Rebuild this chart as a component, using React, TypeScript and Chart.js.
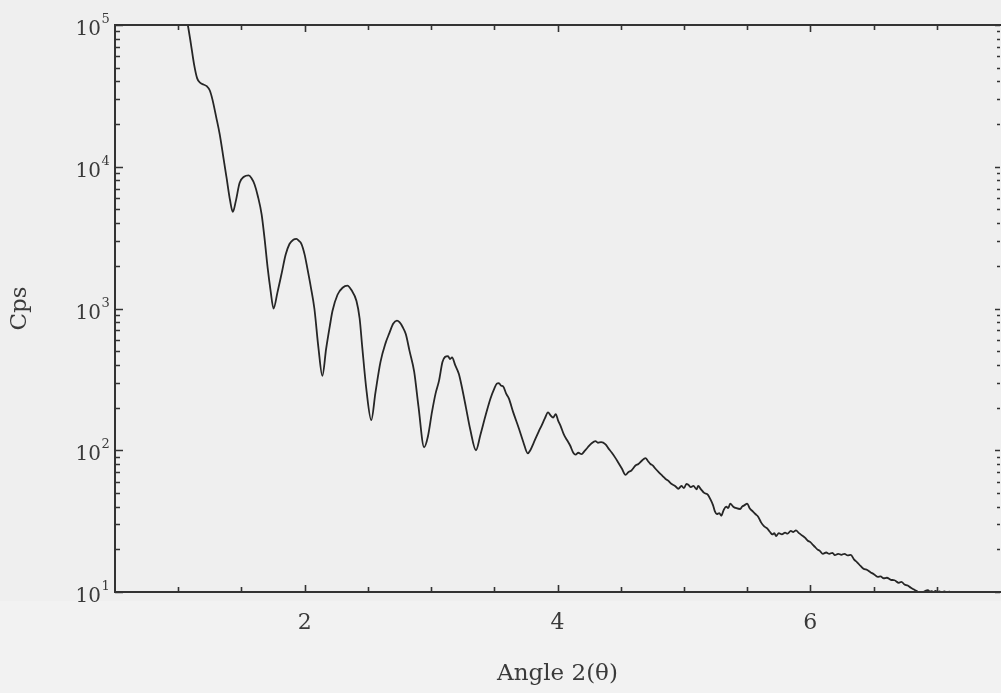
import React, { useEffect, useRef } from 'react';
import { Chart, registerables } from 'chart.js';

Chart.register(...registerables);

// 2θ angle (degrees)
const angles = [
  1.05, 1.076, 1.10, 1.125, 1.15, 1.175, 1.20, 1.226, 1.25, 1.27, 1.30, 1.328, 1.355, 1.383, 1.41, 1.432,
  1.455, 1.486, 1.52, 1.557, 1.58, 1.604, 1.63, 1.66, 1.685, 1.707, 1.73, 1.754, 1.785, 1.817, 1.85, 1.88,
  1.91, 1.935, 1.955, 1.975, 2.0, 2.02, 2.05, 2.077, 2.109, 2.14, 2.17, 2.20, 2.22, 2.26, 2.30, 2.338,
  2.37, 2.41, 2.435, 2.456, 2.49, 2.527, 2.56, 2.60, 2.64, 2.67, 2.70, 2.73, 2.75, 2.775, 2.80, 2.83,
  2.866, 2.90, 2.945, 2.975, 3.008, 3.035, 3.063, 3.09, 3.11, 3.134, 3.15, 3.166, 3.19, 3.22, 3.25, 3.276,
  3.31, 3.355, 3.39, 3.434, 3.47, 3.50, 3.52, 3.536, 3.555, 3.57, 3.595, 3.615, 3.65, 3.694, 3.73, 3.765,
  3.785, 3.81, 3.852, 3.875, 3.90, 3.925, 3.945, 3.965, 3.986, 4.005, 4.025, 4.049, 4.075, 4.10, 4.125, 4.143,
  4.165, 4.19, 4.215, 4.24, 4.27, 4.30, 4.32, 4.345, 4.38, 4.40, 4.43, 4.459, 4.48, 4.51, 4.538, 4.56,
  4.585, 4.617, 4.64, 4.665, 4.696, 4.715, 4.735, 4.755, 4.775, 4.80, 4.83, 4.853, 4.875, 4.90, 4.93, 4.956,
  4.98, 5.0, 5.02, 5.035, 5.055, 5.075, 5.10, 5.113, 5.135, 5.16, 5.19, 5.21, 5.23, 5.245, 5.26, 5.28,
  5.295, 5.315, 5.335, 5.35, 5.366, 5.39, 5.415, 5.445, 5.46, 5.48, 5.50, 5.52, 5.545, 5.565, 5.587, 5.61,
  5.635, 5.66, 5.681, 5.70, 5.715, 5.729, 5.75, 5.775, 5.80, 5.82, 5.845, 5.865, 5.886, 5.91, 5.935, 5.957,
  5.98, 6.0, 6.02, 6.036, 6.055, 6.075, 6.099, 6.125, 6.15, 6.175, 6.194, 6.22, 6.245, 6.27, 6.295, 6.32,
  6.345, 6.37, 6.399, 6.42, 6.45, 6.475, 6.50, 6.533, 6.555, 6.58, 6.605, 6.636, 6.665, 6.70, 6.72, 6.745,
  6.77, 6.795, 6.82, 6.845, 6.872, 6.89, 6.91, 6.93, 6.945, 6.96, 6.975, 6.99, 7.005, 7.02, 7.04, 7.06,
  7.08, 7.10, 7.11,
];

// intensity (counts per second)
const counts = [
  130000, 100000, 74000, 53000, 42000, 39000, 38000, 37000, 34500, 30000, 22500, 17000, 12000, 8300, 5800, 4800,
  5700, 7700, 8500, 8700, 8300, 7500, 6200, 4600, 3000, 1950, 1350, 1000, 1300, 1750, 2400, 2850,
  3050, 3100, 3000, 2850, 2400, 1950, 1400, 1000, 530, 335, 520, 760, 960, 1250, 1400, 1450,
  1350, 1130, 850, 530, 260, 163, 255, 420, 570, 670, 780, 820, 800, 740, 660, 500,
  360, 205, 105, 125, 188, 250, 310, 420, 455, 462, 440, 452, 400, 345, 262, 200,
  140, 100, 128, 180, 232, 272, 295, 298, 285, 282, 250, 232, 185, 143, 114, 95,
  100, 112, 136, 150, 168, 185, 176, 170, 180, 162, 148, 130, 118, 108, 96, 93,
  96, 94, 99, 105, 112, 116, 113, 114, 110, 104, 96, 88, 82, 74, 67, 70,
  72, 78, 80, 84, 88, 84, 80, 78, 74, 70, 66, 63, 61, 58, 56, 53.5,
  56, 54, 58, 57, 55, 56, 53, 56, 53, 50, 48.5, 45, 41, 37, 35.5, 36,
  34.5, 38, 40, 39, 42, 40, 39, 38.5, 40, 41, 42, 39, 37, 35.5, 34, 31,
  29, 28, 26.5, 25.5, 26, 24.8, 26, 25.5, 26.2, 25.8, 27, 26.5, 27.2, 26, 25, 24.2,
  23, 22.5, 21.5, 20.8, 20, 19.5, 18.6, 19, 18.6, 18.9, 18.2, 18.6, 18.3, 18.6, 18.1, 18.3,
  17, 16.2, 15.2, 14.6, 14.3, 13.8, 13.4, 12.8, 12.9, 12.5, 12.6, 12.2, 12.1, 11.6, 11.8, 11.3,
  11.1, 10.7, 10.4, 10.1, 9.75, 9.95, 10.2, 10.3, 10.05, 10.15, 9.95, 10.2, 10.0, 10.1, 9.95, 10.1,
  9.95, 10.05, 9.95,
];

const xLabeledTicks = [2, 4, 6];
const yDecades = [1, 2, 3, 4, 5];
const xTitle = 'Angle 2(θ)';
const yTitle = 'Cps';

const SERIF = '"DejaVu Serif", "Liberation Serif", serif';
const INK = '#3a3a3a';
const BG = '#efefef';

const framePlugin = {
  id: 'frame',
  beforeDraw(chart: any) {
    const { ctx, width, height } = chart;
    ctx.save();
    ctx.fillStyle = BG;
    ctx.fillRect(0, 0, width, height);
    ctx.fillStyle = '#f2f2f2';
    ctx.fillRect(0, 601, width, height - 601);
    ctx.restore();
  },
  afterDraw(chart: any) {
    const { ctx, chartArea, scales } = chart;
    const { left, right, top, bottom } = chartArea;
    const xs = scales.x;
    const ys = scales.y;
    ctx.save();
    ctx.strokeStyle = '#333333';
    ctx.lineWidth = 2;
    ctx.beginPath();
    ctx.moveTo(right + 1, top);
    ctx.lineTo(left, top);
    ctx.lineTo(left, bottom);
    ctx.lineTo(right + 1, bottom);
    ctx.stroke();

    // x tick marks (bottom and top, inward)
    ctx.lineWidth = 1.6;
    ctx.beginPath();
    xs.ticks.forEach((t: any) => {
      const px = Math.round(xs.getPixelForValue(t.value)) + 0.5;
      if (px <= left + 1 || px >= right) return;
      const len = xLabeledTicks.includes(t.value) ? 7 : 5;
      ctx.moveTo(px, bottom);
      ctx.lineTo(px, bottom - len);
      ctx.moveTo(px, top);
      ctx.lineTo(px, top + len);
    });
    ctx.stroke();

    // y tick marks (log, left and right, inward)
    ctx.beginPath();
    yDecades.forEach((k) => {
      const base = Math.pow(10, k);
      const py = Math.round(ys.getPixelForValue(base)) + 0.5;
      ctx.moveTo(left, py);
      ctx.lineTo(left + 8, py);
      ctx.moveTo(right, py);
      ctx.lineTo(right - 5, py);
      if (k === yDecades[yDecades.length - 1]) return;
      for (let m = 2; m <= 9; m++) {
        const pm = Math.round(ys.getPixelForValue(m * base)) + 0.5;
        ctx.moveTo(left, pm);
        ctx.lineTo(left + 5, pm);
        ctx.moveTo(right, pm);
        ctx.lineTo(right - 3, pm);
      }
    });
    ctx.stroke();

    // y tick labels 10^k
    ctx.fillStyle = INK;
    yDecades.forEach((k) => {
      const py = ys.getPixelForValue(Math.pow(10, k));
      ctx.font = `20px ${SERIF}`;
      ctx.textAlign = 'right';
      ctx.textBaseline = 'alphabetic';
      ctx.fillText('10', 101, py + 10);
      ctx.font = `13px ${SERIF}`;
      ctx.textAlign = 'left';
      ctx.fillText(String(k), 101.5, py - 2);
    });
    ctx.restore();
  },
};

export default function App() {
  const ref = useRef<HTMLCanvasElement | null>(null);

  useEffect(() => {
    if (!ref.current) return;
    const chart = new Chart(ref.current, {
      type: 'line',
      data: {
        labels: angles,
        datasets: [
          {
            label: 'Cps',
            data: angles.map((a, i) => ({ x: a, y: counts[i] })),
            borderColor: '#262626',
            borderWidth: 1.8,
            pointRadius: 0,
            fill: false,
            cubicInterpolationMode: 'monotone',
          },
        ],
      },
      options: {
        responsive: false,
        animation: false,
        devicePixelRatio: 1,
        layout: { padding: { top: 25, right: 1, left: 0, bottom: 0 } },
        plugins: { legend: { display: false }, tooltip: { enabled: false } },
        scales: {
          x: {
            type: 'linear',
            min: 0.5,
            max: 7.5,
            grid: { display: false },
            border: { display: false },
            ticks: {
              stepSize: 0.5,
              autoSkip: false,
              maxRotation: 0,
              padding: 10,
              color: INK,
              font: { family: SERIF, size: 22 },
              callback: (v: any) => (xLabeledTicks.includes(Number(v)) ? String(v) : ''),
            },
            title: {
              display: true,
              text: xTitle,
              color: INK,
              font: { family: SERIF, size: 23 },
              padding: { top: 0, bottom: 5 },
            },
            afterFit: (s: any) => {
              s.height = 101;
              s.paddingLeft = 0;
              s.paddingRight = 0;
            },
          },
          y: {
            type: 'logarithmic',
            min: 10,
            max: 100000,
            grid: { display: false },
            border: { display: false },
            ticks: { display: false },
            title: {
              display: true,
              text: yTitle,
              color: INK,
              font: { family: SERIF, size: 23 },
              padding: { top: 6, bottom: 0 },
            },
            afterFit: (s: any) => {
              s.width = 115;
              s.paddingTop = 0;
              s.paddingBottom = 0;
            },
          },
        },
      },
      plugins: [framePlugin],
    });
    return () => chart.destroy();
  }, []);

  return (
    <div style={{ position: 'absolute', left: 0, top: 0, width: 1001, height: 693, background: BG }}>
      <canvas ref={ref} width={1001} height={693} style={{ display: 'block' }} />
    </div>
  );
}
